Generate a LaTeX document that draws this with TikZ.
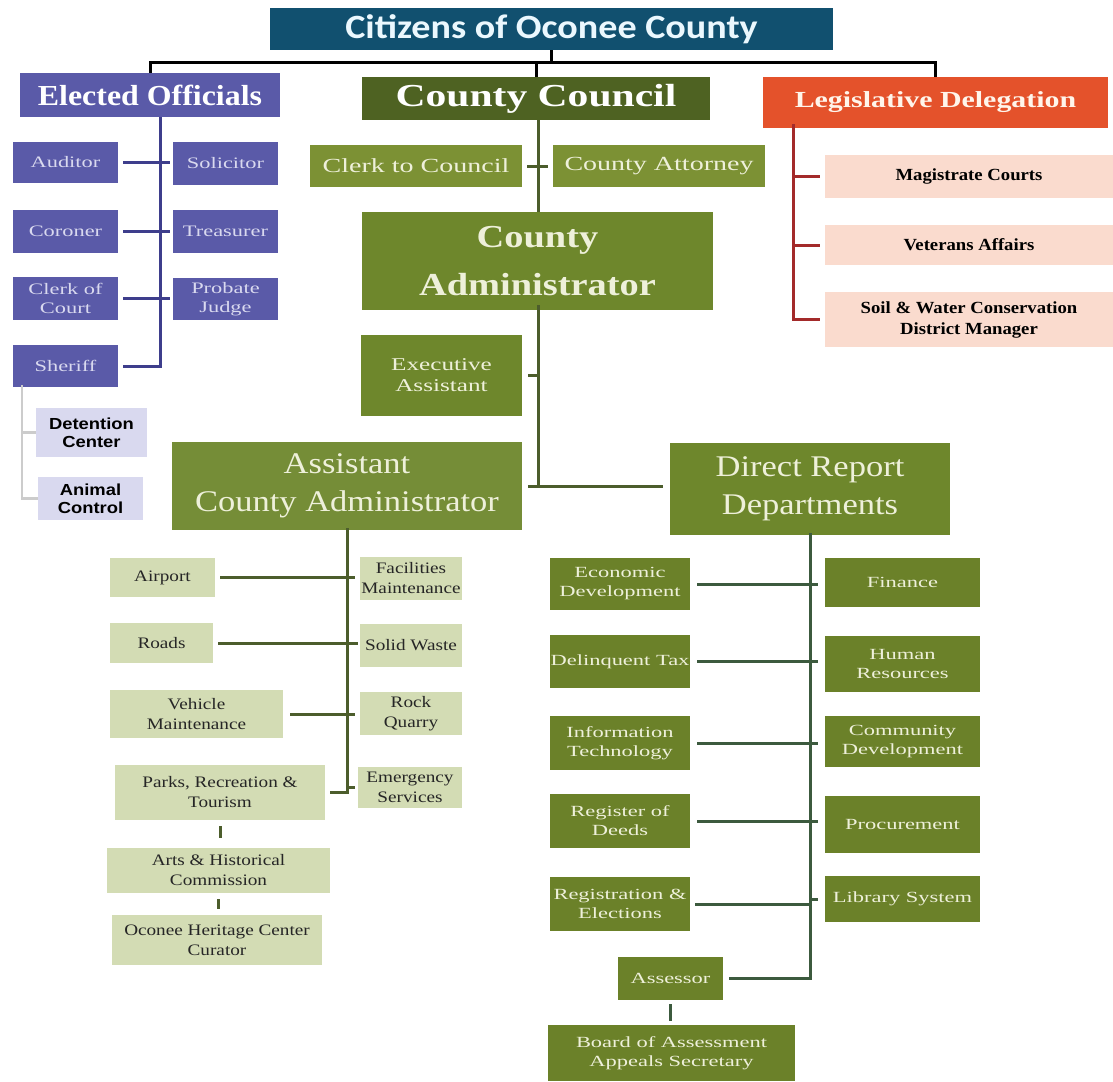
\documentclass[tikz,border=0pt]{standalone}
\usepackage{fontspec}
\setmainfont{Liberation Serif}
\newfontfamily\citfont[FakeStretch=1.12]{Carlito}
\newfontfamily\lsans[FakeStretch=1.15]{Liberation Sans}
\newfontfamily\hserif[FakeStretch=1.3]{Liberation Serif}
\newfontfamily\mserif[FakeStretch=1.15]{Liberation Serif}
\newfontfamily\wserif[FakeStretch=1.4]{Liberation Serif}
\newfontfamily\xserif[FakeStretch=1.45]{Liberation Serif}
\newfontfamily\sserif[FakeStretch=1.2]{Liberation Serif}
\newfontfamily\pserif[FakeStretch=1.1]{Liberation Serif}
\usepackage{tikz}
\usetikzlibrary{calc}

\definecolor{citblue}{HTML}{11506F}
\definecolor{electblue}{HTML}{5A5AA8}
\definecolor{electline}{HTML}{3E3E8C}
\definecolor{lavend}{HTML}{D9D9EF}
\definecolor{councilgreen}{HTML}{4E6222}
\definecolor{midgreen}{HTML}{7C9134}
\definecolor{admgreen}{HTML}{6E872C}
\definecolor{deptgreen}{HTML}{6B8129}
\definecolor{sage}{HTML}{D3DCB4}
\definecolor{legisred}{HTML}{E4522B}
\definecolor{legisline}{HTML}{A32A2A}
\definecolor{pinklight}{HTML}{FADBCE}
\definecolor{cream}{HTML}{EEF0DA}
\definecolor{greenline}{HTML}{4C5D2C}
\definecolor{tealline}{HTML}{3C5A3E}

\tikzset{
  box/.style={rectangle, inner sep=0pt, align=center},
  citbox/.style={box, fill=citblue, text=white!92!cyan, font=\citfont\bfseries\fontsize{34}{36}\selectfont},
  headbox/.style={box, text=white, font=\hserif\bfseries\fontsize{27}{30}\selectfont},
  elbox/.style={box, fill=electblue, text=lavend, font=\wserif\fontsize{16}{19}\selectfont},
  subbox/.style={box, fill=lavend, text=black, font=\lsans\bfseries\fontsize{16}{18}\selectfont},
  gbox/.style={box, fill=midgreen, text=cream, font=\wserif\fontsize{20}{22}\selectfont},
  bigbox/.style={box, fill=admgreen, text=cream, font=\mserif\fontsize{30}{38}\selectfont},
  sagebox/.style={box, fill=sage, text=black!85, font=\sserif\fontsize{16}{20}\selectfont},
  deptbox/.style={box, fill=deptgreen, text=cream, font=\xserif\fontsize{15.5}{19}\selectfont},
  pinkbox/.style={box, fill=pinklight, text=black, font=\pserif\bfseries\fontsize{17}{21}\selectfont},
  busline/.style={draw=black, line width=3pt},
  elline/.style={draw=electline, line width=3pt},
  subline/.style={draw=black!20, line width=2.5pt},
  grline/.style={draw=greenline, line width=3pt},
  rline/.style={draw=tealline, line width=3pt},
  lgline/.style={draw=legisline, line width=3pt},
}

\begin{document}
\begin{tikzpicture}[x=1pt, y=-1pt]

  \useasboundingbox[fill=white] (0,0) rectangle (1113,1081);

  % Nodes
  \node[citbox, minimum width=563, minimum height=42] (citizens) at (551.5,29) {Citizens of Oconee County};

  \node[headbox, fill=electblue, minimum width=260, minimum height=44, font=\pserif\bfseries\fontsize{29}{30}\selectfont] (elected) at (150,95) {Elected Officials};
  \node[headbox, fill=councilgreen, minimum width=348, minimum height=43, font=\hserif\bfseries\fontsize{32}{34}\selectfont] (council) at (536,98.5) {County Council};
  \node[headbox, fill=legisred, minimum width=345, minimum height=51, font=\hserif\bfseries\fontsize{23}{24}\selectfont, text=white!92!orange] (legis) at (935.5,102.5) {Legislative Delegation};

  % elected officials
  \node[elbox, minimum width=105, minimum height=41] (auditor)   at (65.5,162.5)  {Auditor};
  \node[elbox, minimum width=105, minimum height=43] (solicitor) at (225.5,163.5) {Solicitor};
  \node[elbox, minimum width=105, minimum height=43] (coroner)   at (65.5,231.5)  {Coroner};
  \node[elbox, minimum width=105, minimum height=43] (treasurer) at (225.5,231.5) {Treasurer};
  \node[elbox, minimum width=105, minimum height=43] (clerkcourt) at (65.5,298.5) {Clerk of\\Court};
  \node[elbox, minimum width=105, minimum height=42] (probate)   at (225.5,299)   {Probate\\Judge};
  \node[elbox, minimum width=105, minimum height=42] (sheriff)   at (65.5,366)    {Sheriff};
  \node[subbox, minimum width=111, minimum height=49] (detention) at (91.5,432.5) {Detention\\Center};
  \node[subbox, minimum width=105, minimum height=43] (animal)    at (90.5,498.5) {Animal\\Control};

  % council and administrator
  \node[gbox, minimum width=212, minimum height=42] (clerkcouncil) at (416,166) {Clerk to Council};
  \node[gbox, minimum width=212, minimum height=42] (attorney)     at (659,166) {County Attorney};
  \node[bigbox, minimum width=351, minimum height=98, font=\sserif\bfseries\fontsize{32}{48}\selectfont] (admin) at (537.5,261) {County\\Administrator};
  \node[gbox, fill=admgreen, minimum width=161, minimum height=81, font=\wserif\fontsize{18}{21}\selectfont] (exec) at (441.5,375.5) {Executive\\Assistant};
  \node[bigbox, fill=admgreen!95!white, minimum width=350, minimum height=88] (aca) at (347,486) {Assistant\\County Administrator};
  \node[bigbox, minimum width=280, minimum height=92] (direct) at (810,489) {Direct Report\\Departments};

  % legislative delegation
  \node[pinkbox, minimum width=288, minimum height=43] (magistrate) at (969,176.5) {Magistrate Courts};
  \node[pinkbox, minimum width=288, minimum height=40] (veterans)   at (969,245)   {Veterans Affairs};
  \node[pinkbox, minimum width=288, minimum height=55] (soil)       at (969,319.5) {Soil \& Water Conservation\\District Manager};

  % assistant county administrator
  \node[sagebox, minimum width=105, minimum height=39] (airport)    at (162.5,577.5) {Airport};
  \node[sagebox, minimum width=102, minimum height=43] (facilities) at (411,578.5)   {Facilities\\Maintenance};
  \node[sagebox, minimum width=103, minimum height=40] (roads)      at (161.5,643)   {Roads};
  \node[sagebox, minimum width=102, minimum height=43] (solid)      at (411,645.5)   {Solid Waste};
  \node[sagebox, minimum width=173, minimum height=48] (vehicle)    at (196.5,714)   {Vehicle\\Maintenance};
  \node[sagebox, minimum width=102, minimum height=43] (rock)       at (411,713.5)   {Rock\\Quarry};
  \node[sagebox, minimum width=210, minimum height=55] (parks)      at (220,792.5)   {Parks, Recreation \&\\Tourism};
  \node[sagebox, minimum width=104, minimum height=41] (emergency)  at (410,787.5)   {Emergency\\Services};
  \node[sagebox, minimum width=223, minimum height=45] (arts)       at (218.5,870.5) {Arts \& Historical\\Commission};
  \node[sagebox, minimum width=210, minimum height=50] (heritage)   at (217,940)     {Oconee Heritage Center\\Curator};

  % direct report departments
  \node[deptbox, minimum width=140, minimum height=52] (economic)     at (620,584)     {Economic\\Development};
  \node[deptbox, minimum width=155, minimum height=49] (finance)      at (902.5,582.5) {Finance};
  \node[deptbox, minimum width=140, minimum height=53] (delinquent)   at (620,661.5)   {Delinquent Tax};
  \node[deptbox, minimum width=155, minimum height=56] (hr)           at (902.5,664)   {Human\\Resources};
  \node[deptbox, minimum width=140, minimum height=54] (infotech)     at (620,743)     {Information\\Technology};
  \node[deptbox, minimum width=155, minimum height=51] (community)    at (902.5,741.5) {Community\\Development};
  \node[deptbox, minimum width=140, minimum height=54] (register)     at (620,821)     {Register of\\Deeds};
  \node[deptbox, minimum width=155, minimum height=57] (procurement)  at (902.5,824.5) {Procurement};
  \node[deptbox, minimum width=140, minimum height=54] (registration) at (620,904)     {Registration \&\\Elections};
  \node[deptbox, minimum width=155, minimum height=46] (library)      at (902.5,899)   {Library System};
  \node[deptbox, minimum width=105, minimum height=43] (assessor)     at (670.5,978.5) {Assessor};
  \node[deptbox, minimum width=247, minimum height=56] (board)        at (671.5,1053)  {Board of Assessment\\Appeals Secretary};

  % Spines
  \coordinate (bus)    at (0,63);
  \coordinate (elspine) at (160,0);
  \coordinate (shspine) at (22,0);
  \coordinate (cospine) at (538,0);
  \coordinate (lgspine) at (793,0);
  \coordinate (acspine) at (347,0);
  \coordinate (drspine) at (810,0);

  % Edges
  \draw[busline] (elected.north) -- (elected.north |- bus) -- (legis.north |- bus) -- (legis.north);
  \draw[busline] (citizens.south) -- (citizens.south |- bus);
  \draw[busline] (council.north) -- (council.north |- bus);

  \draw[elline] (elspine |- elected.south) -- (elspine |- sheriff.east) -- ([xshift=5pt]sheriff.east);
  \draw[elline, shorten <=5pt, shorten >=3pt] (auditor.east) -- (auditor.east -| solicitor.west);
  \draw[elline, shorten <=5pt, shorten >=3pt] (coroner.east) -- (coroner.east -| treasurer.west);
  \draw[elline, shorten <=5pt, shorten >=3pt] (clerkcourt.east) -- (clerkcourt.east -| probate.west);

  \draw[subline] ([yshift=2pt]shspine |- sheriff.south) -- (shspine |- animal.west) -- (animal.west);
  \draw[subline] (shspine |- detention.west) -- (detention.west);

  \draw[grline] (cospine |- council.south) -- (cospine |- admin.north);
  \draw[grline, shorten <=5pt, shorten >=5pt] (clerkcouncil.east) -- (clerkcouncil.east -| attorney.west);

  \draw[grline] ([yshift=5pt]cospine |- admin.south) -- (cospine |- aca.east);
  \draw[grline, shorten <=6pt, shorten >=7pt] (aca.east) -- (aca.east -| direct.west);
  \draw[grline] ([xshift=6pt]exec.east) -- (cospine |- exec.east);

  \draw[lgline] ([yshift=4pt]lgspine |- legis.south) -- (lgspine |- soil.west) -- ([xshift=-5pt]soil.west);
  \draw[lgline] (lgspine |- magistrate.west) -- ([xshift=-5pt]magistrate.west);
  \draw[lgline] (lgspine |- veterans.west) -- ([xshift=-5pt]veterans.west);

  \draw[grline] ([yshift=2pt]acspine |- aca.south) -- (acspine |- parks.east) -- ([xshift=5pt]parks.east);
  \draw[grline, shorten <=5pt, shorten >=5pt] (airport.east) -- (airport.east -| facilities.west);
  \draw[grline, shorten <=5pt, shorten >=2pt] (roads.east) -- (roads.east -| solid.west);
  \draw[grline, shorten <=7pt, shorten >=5pt] (vehicle.east) -- (vehicle.east -| rock.west);
  \draw[grline] (acspine |- emergency.west) -- ([xshift=-3pt]emergency.west);
  \draw[grline, shorten <=6pt, shorten >=10pt] (parks.south) -- (arts.north -| parks.south);
  \draw[grline, shorten <=6pt, shorten >=6pt] (arts.south) -- (heritage.north -| arts.south);

  \draw[rline] ([yshift=2pt]drspine |- direct.south) -- (drspine |- assessor.east) -- ([xshift=6pt]assessor.east);
  \draw[rline, shorten <=7pt, shorten >=7pt] (economic.east) -- (economic.east -| finance.west);
  \draw[rline, shorten <=7pt, shorten >=7pt] (delinquent.east) -- (delinquent.east -| hr.west);
  \draw[rline, shorten <=7pt, shorten >=7pt] (infotech.east) -- (infotech.east -| community.west);
  \draw[rline, shorten <=7pt, shorten >=7pt] (register.east) -- (register.east -| procurement.west);
  \draw[rline, shorten <=5pt] (registration.east) -- (registration.east -| drspine);
  \draw[rline] (drspine |- library.west) -- ([xshift=-7pt]library.west);
  \draw[rline, shorten <=4pt, shorten >=4pt] (assessor.south) -- (board.north -| assessor.south);

\end{tikzpicture}
\end{document}
